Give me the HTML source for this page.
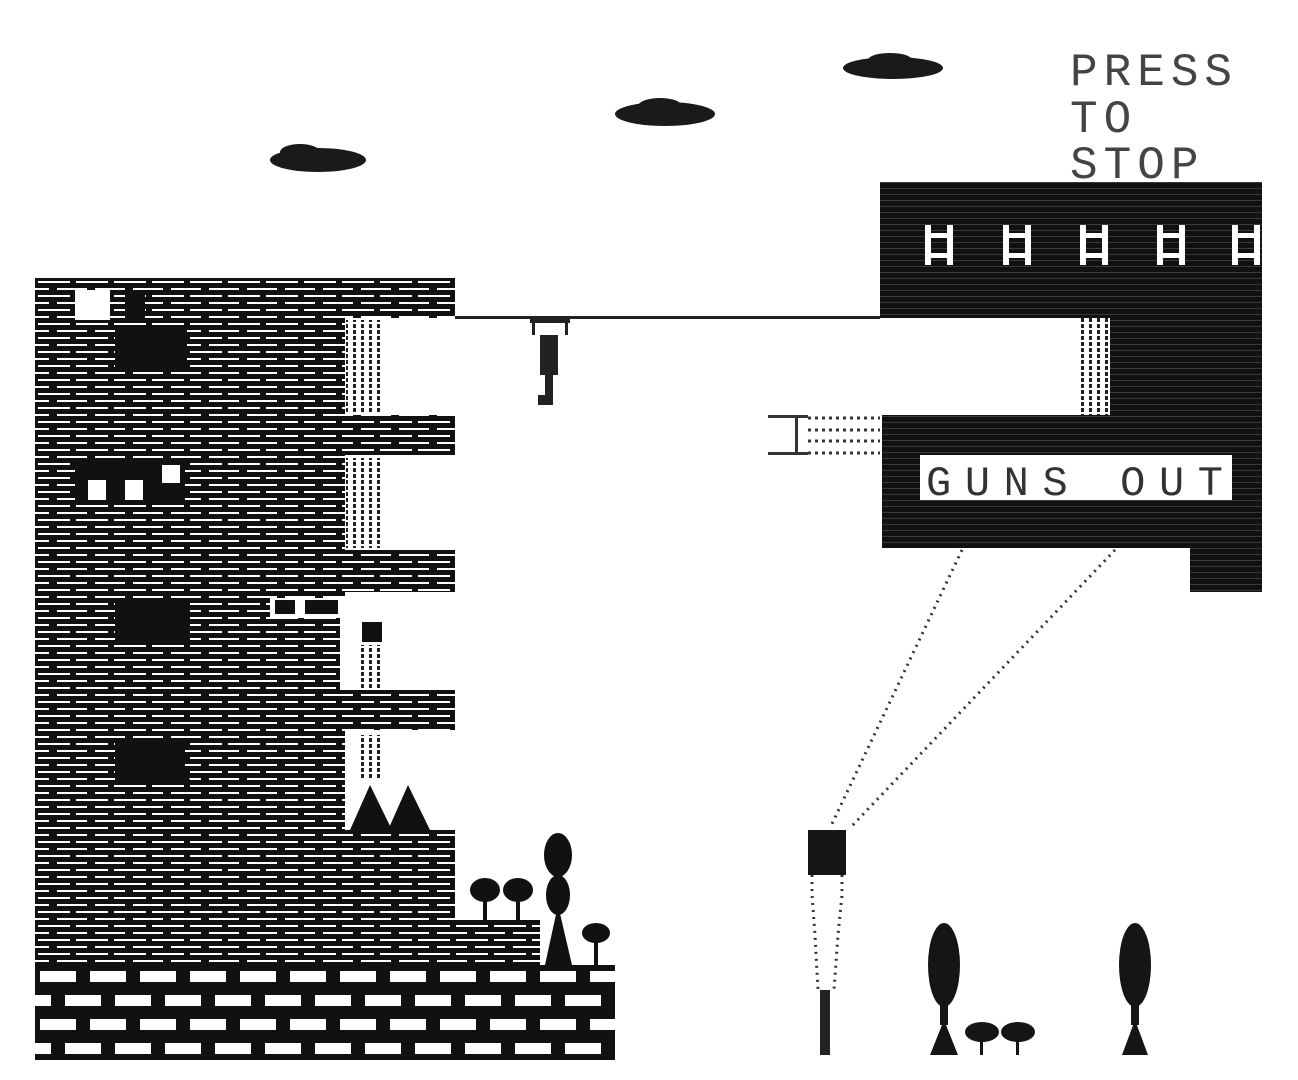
<!DOCTYPE html>
<html><head><meta charset="utf-8"><style>
html,body{margin:0;padding:0;background:#fff;}
svg{display:block}
</style></head><body>
<svg width="1298" height="1080" viewBox="0 0 1298 1080" xmlns="http://www.w3.org/2000/svg">
<defs>
<pattern id="brick" x="35" y="278" width="38" height="14" patternUnits="userSpaceOnUse">
<rect width="38" height="14" fill="#111"/>
<rect x="3" y="3" width="32" height="2" fill="#fff"/>
<rect x="22" y="10" width="16" height="2" fill="#fff"/>
<rect x="0" y="10" width="14" height="2" fill="#fff"/>
</pattern>
<pattern id="floor" x="35" y="965" width="50" height="48" patternUnits="userSpaceOnUse">
<rect width="50" height="48" fill="#111"/>
<rect x="5" y="6" width="36" height="11" fill="#fff"/>
<rect x="30" y="30" width="36" height="11" fill="#fff"/>
<rect x="-20" y="30" width="36" height="11" fill="#fff"/>
</pattern>
<pattern id="dark" width="6" height="6" patternUnits="userSpaceOnUse">
<rect width="6" height="6" fill="#111"/>
<rect x="0" y="2" width="6" height="1" fill="#3a3a3a"/>
</pattern>
<pattern id="ladder" width="8" height="6" patternUnits="userSpaceOnUse">
<rect x="1" y="0" width="3" height="4" fill="#222"/>
</pattern>
</defs>

<!-- clouds -->
<g fill="#1a1a1a">
<ellipse cx="318" cy="160" rx="48" ry="12"/><ellipse cx="300" cy="152" rx="20" ry="8"/>
<ellipse cx="665" cy="114" rx="50" ry="12"/><ellipse cx="660" cy="106" rx="22" ry="8"/>
<ellipse cx="893" cy="68" rx="50" ry="11"/><ellipse cx="890" cy="60" rx="22" ry="7"/>
</g>

<!-- PRESS TO STOP -->
<g font-family="Liberation Mono, monospace" font-size="46" fill="#444" letter-spacing="6">
<text x="1070" y="85">PRESS</text>
<text x="1070" y="132">TO</text>
<text x="1070" y="178">STOP</text>
</g>

<!-- tower -->
<path fill="url(#brick)" d="M35 278 H455 V318 H345 V415 H455 V455 H345 V550 H455 V592 H345 V690 H455 V730 H345 V830 H455 V920 H540 V965 H35 Z"/>
<!-- floor -->
<rect x="35" y="965" width="580" height="95" fill="url(#floor)"/>

<!-- holes / dark marks -->
<rect x="75" y="290" width="35" height="30" fill="#fff"/>
<rect x="125" y="290" width="20" height="28" fill="#111"/>
<rect x="115" y="325" width="72" height="45" fill="#111"/>
<rect x="75" y="460" width="110" height="40" fill="#111"/>
<rect x="88" y="480" width="18" height="20" fill="#fff"/>
<rect x="125" y="480" width="18" height="20" fill="#fff"/>
<rect x="162" y="465" width="18" height="18" fill="#fff"/>
<rect x="115" y="600" width="75" height="45" fill="#111"/>
<rect x="270" y="598" width="70" height="20" fill="#fff"/>
<rect x="275" y="600" width="20" height="14" fill="#111"/>
<rect x="305" y="600" width="33" height="14" fill="#111"/>
<rect x="340" y="598" width="50" height="92" fill="#fff"/>
<rect x="362" y="622" width="20" height="20" fill="#111"/>
<rect x="115" y="740" width="70" height="40" fill="#111"/>
<polygon points="150,780 170,735 190,780" fill="#111"/>

<!-- ladders -->
<rect x="345" y="318" width="36" height="97" fill="#fff"/>
<rect x="345" y="455" width="36" height="95" fill="#fff"/>
<rect x="345" y="730" width="36" height="100" fill="#fff"/>
<rect x="346" y="320" width="34" height="92" fill="url(#ladder)"/>
<rect x="346" y="458" width="34" height="90" fill="url(#ladder)"/>
<rect x="356" y="645" width="26" height="45" fill="url(#ladder)"/>
<rect x="356" y="735" width="26" height="45" fill="url(#ladder)"/>
<!-- trees on ledge -->
<polygon points="350,830 370,785 392,830" fill="#111"/>
<polygon points="388,830 408,785 430,830" fill="#111"/>
<!-- small trees -->
<g fill="#111">
<ellipse cx="485" cy="890" rx="15" ry="12"/><rect x="483" y="898" width="4" height="22"/>
<ellipse cx="518" cy="890" rx="15" ry="12"/><rect x="516" y="898" width="4" height="22"/>
<ellipse cx="558" cy="855" rx="14" ry="22"/><ellipse cx="558" cy="895" rx="12" ry="20"/>
<polygon points="545,965 558,905 572,965"/>
<ellipse cx="596" cy="933" rx="14" ry="10"/><rect x="594" y="940" width="4" height="25"/>
</g>

<!-- rope line & figure -->
<rect x="455" y="316" width="425" height="3" fill="#222"/>
<g fill="#222">
<rect x="530" y="318" width="40" height="5"/>
<rect x="532" y="323" width="3" height="12"/><rect x="565" y="323" width="3" height="12"/>
<rect x="540" y="335" width="18" height="40"/>
<rect x="545" y="375" width="8" height="30"/>
<rect x="538" y="395" width="10" height="10"/>
</g>

<!-- fortress -->
<path fill="url(#dark)" d="M880 182 H1262 V592 H1190 V548 H882 V415 H1110 V318 H880 Z"/>
<rect x="1080" y="318" width="30" height="97" fill="url(#ladder)"/>
<g fill="#fff">
<g transform="translate(925 225)"><rect x="0" y="0" width="6" height="40"/><rect x="22" y="0" width="6" height="40"/><rect x="0" y="8" width="28" height="5"/><rect x="0" y="28" width="28" height="5"/></g>
<g transform="translate(1003 225)"><rect x="0" y="0" width="6" height="40"/><rect x="22" y="0" width="6" height="40"/><rect x="0" y="8" width="28" height="5"/><rect x="0" y="28" width="28" height="5"/></g>
<g transform="translate(1080 225)"><rect x="0" y="0" width="6" height="40"/><rect x="22" y="0" width="6" height="40"/><rect x="0" y="8" width="28" height="5"/><rect x="0" y="28" width="28" height="5"/></g>
<g transform="translate(1157 225)"><rect x="0" y="0" width="6" height="40"/><rect x="22" y="0" width="6" height="40"/><rect x="0" y="8" width="28" height="5"/><rect x="0" y="28" width="28" height="5"/></g>
<g transform="translate(1232 225)"><rect x="0" y="0" width="6" height="40"/><rect x="22" y="0" width="6" height="40"/><rect x="0" y="8" width="28" height="5"/><rect x="0" y="28" width="28" height="5"/></g>
</g>
<rect x="920" y="455" width="312" height="45" fill="#fff"/>
<text x="926" y="495" font-family="Liberation Mono, monospace" font-size="42" fill="#333" letter-spacing="3" textLength="300">GUNS OUT</text>

<!-- gun stub -->
<g fill="#333">
<rect x="768" y="415" width="40" height="3"/><rect x="768" y="452" width="40" height="3"/>
<rect x="795" y="418" width="3" height="34"/>
</g>
<g stroke="#333" stroke-width="3" stroke-dasharray="3 4">
<line x1="808" y1="418" x2="880" y2="418"/><line x1="808" y1="430" x2="880" y2="430"/>
<line x1="808" y1="441" x2="880" y2="441"/><line x1="808" y1="453" x2="880" y2="453"/>
</g>

<!-- dotted lines -->
<g stroke="#333" stroke-width="3" stroke-dasharray="2 5" fill="none">
<line x1="962" y1="550" x2="830" y2="828"/>
<line x1="1115" y1="550" x2="850" y2="828"/>
<path d="M812 875 L812 895 L815 935 L818 990 M842 875 L842 895 L838 935 L834 990"/>
</g>
<rect x="808" y="830" width="38" height="45" fill="#151515"/>
<rect x="820" y="990" width="10" height="65" fill="#222"/>

<!-- bottom trees -->
<g fill="#151515">
<ellipse cx="944" cy="965" rx="16" ry="42"/>
<rect x="940" y="990" width="8" height="35"/>
<polygon points="930,1055 944,1020 958,1055"/>
<ellipse cx="1135" cy="965" rx="16" ry="42"/>
<rect x="1131" y="990" width="8" height="35"/>
<polygon points="1122,1055 1135,1020 1148,1055"/>
<ellipse cx="982" cy="1032" rx="17" ry="10"/><ellipse cx="1018" cy="1032" rx="17" ry="10"/>
<rect x="980" y="1040" width="3" height="15"/><rect x="1016" y="1040" width="3" height="15"/>
</g>
</svg>
</body></html>
